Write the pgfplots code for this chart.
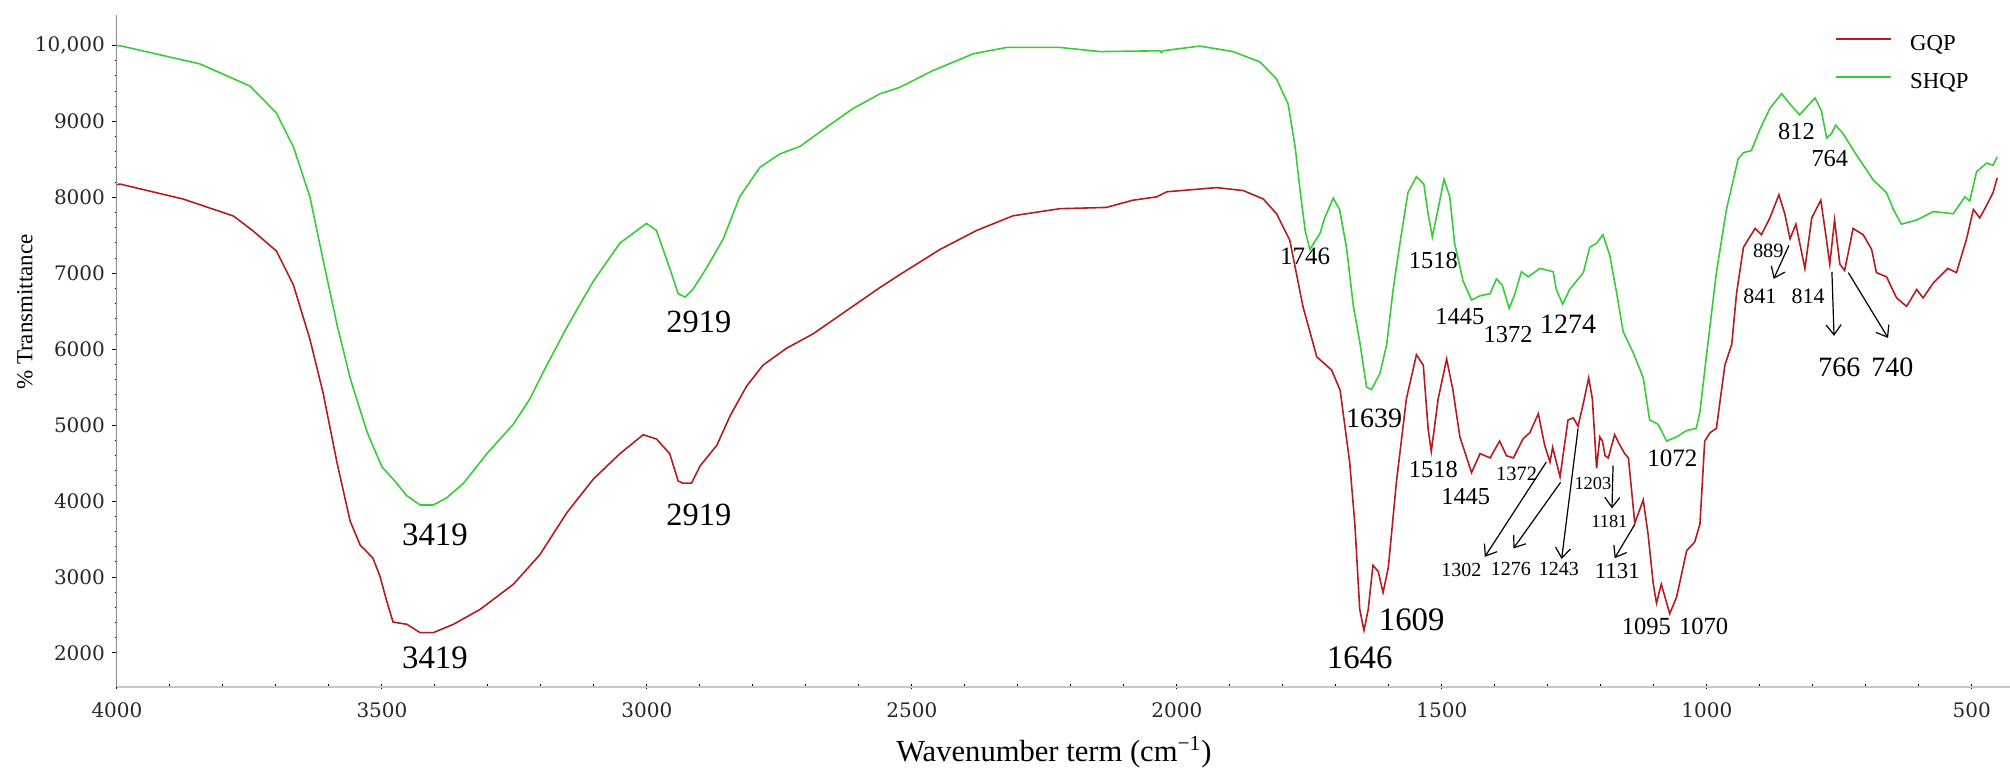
\documentclass[border=0pt]{standalone}
\usepackage{pgfplots}
\pgfplotsset{compat=1.18}
\usepackage{fontspec}
\setmainfont{Liberation Serif}
\newfontfamily\tickfont{DejaVu Serif}
\usetikzlibrary{arrows.meta}
\definecolor{gqp}{RGB}{180,28,34}
\definecolor{shqp}{RGB}{55,205,55}
\newcommand{\fs}[1]{\fontsize{#1}{#1}\selectfont}
\tikzset{lab/.style={inner sep=0pt, anchor=center, text=black},
  arr/.style={-{Straight Barb[length=5pt,width=7.5pt]}, line width=0.6pt, black}}
\begin{document}
\begin{tikzpicture}
\path[use as bounding box] (-58.5pt,-42pt) rectangle (946.5pt,343.5pt);
\begin{axis}[
  scale only axis, width=946.5pt, height=336pt,
  x dir=reverse, xmin=428, xmax=4000, ymin=1552, ymax=10402,
  axis x line*=bottom, axis y line*=left,
  x axis line style={-, draw=black!22, line width=1.4pt},
  y axis line style={-, draw=black!45, line width=0.5pt},
  tick align=outside,
  major tick length=2.5pt, minor tick length=1.2pt,
  tick style={black, line width=0.5pt},
  x tick style={yshift=1.5pt},
  xtick={500,1000,...,4000},
  xticklabels={500,1000,1500,2000,2500,3000,3500,4000},
  ytick={2000,3000,...,10000},
  yticklabels={2000,3000,4000,5000,6000,7000,8000,9000,{10,000}},
  minor x tick num=4, minor y tick num=4,
  ticklabel style={font=\tickfont\fs{10}, text=black!85},
  xticklabel style={yshift=-2pt},
  xlabel={Wavenumber term (cm\textsuperscript{−1})},
  xlabel style={at={(axis cs:2232,1552)}, anchor=center, yshift=-32.5pt, font=\fs{15.3}},
  ylabel={\% Transmittance},
  ylabel style={at={([xshift=-46pt]rel axis cs:0,0.558)}, anchor=center, font=\fs{11.5}},
  legend style={at={(rel axis cs:0.9076,0.9267)}, anchor=west, draw=none, fill=none,
    inner sep=0pt, row sep=8.5pt, font=\fs{11.4},
    nodes={inner sep=0pt, text height=8pt, text depth=2.5pt}},
  legend cell align=left,
  legend image code/.code={\draw[#1, line width=0.9pt] (0pt,0.33em) -- (27.5pt,0.33em); \path (36.5pt,0.33em);},
]
\addplot[gqp, line width=0.8pt] coordinates {
(4000,8170) (3994,8175) (3875,7978) (3780,7754) (3743,7557) (3699,7293) (3667,6845)
(3636,6134) (3611,5423) (3585,4513) (3560,3736) (3541,3420) (3517,3249) (3504,3016)
(3491,2684) (3479,2407) (3453,2378) (3428,2268) (3403,2268) (3365,2378) (3315,2573)
(3252,2905) (3202,3294) (3151,3849) (3101,4291) (3051,4625) (3007,4874) (2982,4818)
(2957,4625) (2941,4264) (2932,4236) (2916,4236) (2900,4460) (2868,4737) (2843,5124)
(2812,5513) (2781,5790) (2737,6011) (2686,6205) (2623,6510) (2560,6814) (2523,6982)
(2447,7314) (2378,7564) (2309,7758) (2221,7851) (2133,7868) (2083,7963) (2038,8007)
(2019,8074) (1925,8129) (1875,8090) (1837,7979) (1812,7785) (1787,7437) (1762,6559)
(1736,5900) (1708,5725) (1692,5461) (1674,4514) (1664,3682) (1655,2573) (1647,2296)
(1639,2573) (1630,3155) (1620,3072) (1611,2795) (1601,3127) (1586,4236) (1567,5345)
(1548,5928) (1535,5789) (1526,4957) (1520,4652) (1507,5345) (1491,5872) (1479,5456)
(1466,4846) (1453,4569) (1444,4375) (1428,4625) (1409,4569) (1391,4791) (1378,4597)
(1365,4569) (1347,4819) (1334,4902) (1318,5151) (1306,4735) (1296,4514) (1291,4708)
(1277,4320) (1262,5068) (1252,5096) (1243,4985) (1233,5290) (1223,5623) (1216,5345)
(1208,4431) (1202,4846) (1197,4791) (1192,4597) (1186,4569) (1174,4874) (1164,4735)
(1155,4625) (1148,4569) (1136,3709) (1120,4015) (1111,3571) (1101,2906) (1095,2656)
(1086,2906) (1070,2518) (1057,2739) (1038,3349) (1023,3460) (1013,3700) (1004,4791)
(994,4902) (982,4957) (966,5789) (953,6066) (944,6732) (931,7342) (909,7591) (897,7508)
(881,7730) (864,8035) (853,7785) (843,7453) (832,7647) (815,7064) (802,7730) (785,7963)
(775,7480) (768,7120) (759,7702) (749,7120) (740,7037) (724,7591) (705,7508) (689,7314)
(680,7009) (661,6954) (642,6676) (623,6565) (604,6787) (592,6676) (573,6870) (545,7065)
(529,7009) (510,7453) (497,7841) (485,7730) (472,7896) (460,8062) (452,8257)
};
\addlegendentry{GQP}
\addplot[shqp, line width=0.8pt] coordinates {
(4000,10000) (3994,9997) (3843,9757) (3749,9466) (3699,9111) (3667,8663) (3636,8009)
(3611,7174) (3585,6331) (3560,5619) (3528,4908) (3500,4450) (3479,4291) (3453,4070)
(3428,3949) (3403,3949) (3378,4042) (3346,4236) (3302,4625) (3252,5013) (3221,5345)
(3189,5790) (3151,6291) (3101,6897) (3051,7398) (3001,7657) (2982,7564) (2957,7065)
(2941,6731) (2928,6687) (2913,6792) (2888,7065) (2856,7452) (2825,8007) (2787,8395)
(2749,8573) (2711,8672) (2667,8895) (2611,9171) (2560,9365) (2523,9449) (2460,9671)
(2384,9892) (2321,9975) (2221,9975) (2145,9920) (2032,9931) (2029,9908) (2026,9931)
(1957,9993) (1894,9920) (1843,9783) (1812,9560) (1790,9227) (1777,8672) (1768,8117)
(1758,7564) (1749,7314) (1730,7526) (1721,7730) (1705,7990) (1693,7841) (1680,7342)
(1667,6565) (1655,6100) (1642,5500) (1633,5470) (1617,5678) (1604,6066) (1592,6787)
(1579,7400) (1564,8062) (1548,8272) (1534,8173) (1526,7785) (1518,7480) (1507,7850)
(1496,8240) (1485,8007) (1476,7397) (1460,6898) (1444,6649) (1428,6704) (1409,6732)
(1397,6926) (1386,6843) (1373,6538) (1362,6732) (1350,7020) (1337,6954) (1315,7065)
(1290,7020) (1284,6787) (1272,6593) (1259,6787) (1233,7009) (1221,7342) (1208,7397)
(1196,7508) (1183,7231) (1170,6732) (1158,6233) (1139,5955) (1120,5623) (1108,5068)
(1092,5013) (1076,4791) (1057,4846) (1038,4930) (1020,4957) (1013,5179) (1001,5900)
(982,7009) (963,7841) (941,8506) (931,8589) (916,8617) (900,8894) (881,9172) (859,9366)
(843,9227) (825,9088) (796,9310) (784,9144) (774,8783) (765,8839) (757,8950) (743,8839)
(718,8562) (686,8229) (661,8062) (648,7841) (633,7647) (604,7702) (573,7813) (535,7785)
(513,8007) (504,7952) (491,8340) (472,8451) (460,8423) (452,8534)
};
\addlegendentry{SHQP}
% peak labels
\node[lab, font=\fs{16.4}] at (axis cs:3400,3560) {3419};
\node[lab, font=\fs{16.4}] at (axis cs:3400,1935) {3419};
\node[lab, font=\fs{16.2}] at (axis cs:2902,6355) {2919};
\node[lab, font=\fs{16.2}] at (axis cs:2902,3821) {2919};
\node[lab, font=\fs{12.5}] at (axis cs:1758,7226) {1746};
\node[lab, font=\fs{12.2}] at (axis cs:1516,7164) {1518};
\node[lab, font=\fs{12.2}] at (axis cs:1466,6427) {1445};
\node[lab, font=\fs{12.2}] at (axis cs:1375,6188) {1372};
\node[lab, font=\fs{14}] at (axis cs:1262,6333) {1274};
\node[lab, font=\fs{14}] at (axis cs:1628,5096) {1639};
\node[lab, font=\fs{12.2}] at (axis cs:1516,4414) {1518};
\node[lab, font=\fs{12.2}] at (axis cs:1455,4059) {1445};
\node[lab, font=\fs{10.2}] at (axis cs:1359,4358) {1372};
\node[lab, font=\fs{9.2}] at (axis cs:1215,4236) {1203};
\node[lab, font=\fs{9.2}] at (axis cs:1184,3737) {1181};
\node[lab, font=\fs{10}] at (axis cs:1463,3100) {1302};
\node[lab, font=\fs{10}] at (axis cs:1370,3100) {1276};
\node[lab, font=\fs{10}] at (axis cs:1279,3100) {1243};
\node[lab, font=\fs{11.4}] at (axis cs:1169,3083) {1131};
\node[lab, font=\fs{12.3}] at (axis cs:1114,2345) {1095};
\node[lab, font=\fs{12.3}] at (axis cs:1006,2345) {1070};
\node[lab, font=\fs{16.4}] at (axis cs:1655,1935) {1646};
\node[lab, font=\fs{16.4}] at (axis cs:1557,2434) {1609};
\node[lab, font=\fs{12.5}] at (axis cs:1065,4569) {1072};
\node[lab, font=\fs{12.2}] at (axis cs:831,8867) {812};
\node[lab, font=\fs{12.2}] at (axis cs:768,8506) {764};
\node[lab, font=\fs{10.2}] at (axis cs:884,7297) {889};
\node[lab, font=\fs{11}] at (axis cs:900,6704) {841};
\node[lab, font=\fs{11}] at (axis cs:809,6704) {814};
\node[lab, font=\fs{14}] at (axis cs:750,5761) {766};
\node[lab, font=\fs{14}] at (axis cs:650,5761) {740};
% arrows
\draw[arr] (axis cs:1303,4514) -- (axis cs:1419,3266);
\draw[arr] (axis cs:1276,4247) -- (axis cs:1365,3377);
\draw[arr] (axis cs:1243,4957) -- (axis cs:1274,3238);
\draw[arr] (axis cs:1177,4469) -- (axis cs:1179,3904);
\draw[arr] (axis cs:1136,3693) -- (axis cs:1174,3249);
\draw[arr] (axis cs:845,7369) -- (axis cs:874,6926);
\draw[arr] (axis cs:764,7020) -- (axis cs:760,6177);
\draw[arr] (axis cs:733,7009) -- (axis cs:658,6149);
\end{axis}
\end{tikzpicture}
\end{document}
